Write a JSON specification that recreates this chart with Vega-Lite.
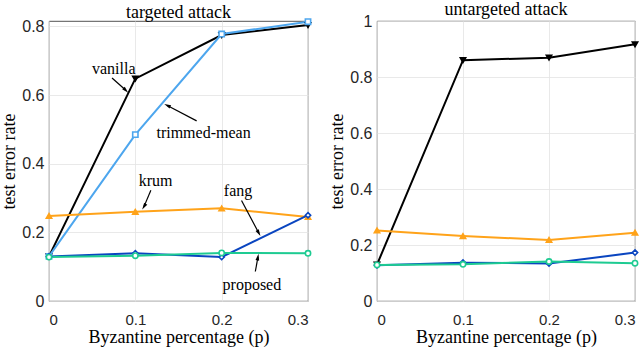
{
  "$schema": "https://vega.github.io/schema/vega-lite/v6.json",
  "padding": {"left": 0, "top": 0, "right": 5, "bottom": 0},
  "spacing": 13,
  "background": "white",
  "config": {
    "view": {"stroke": "#262626", "strokeWidth": 0.8},
    "axis": {
      "labelFont": "Liberation Sans", "labelFontSize": 16, "labelColor": "#262626",
      "titleFont": "Liberation Serif", "titleFontSize": 18, "titleFontWeight": "normal", "titleColor": "#000000",
      "domain": false, "ticks": false, "grid": true, "gridColor": "#e3e3e3", "gridWidth": 0.8
    },
    "axisX": {"labelPadding": 11, "titlePadding": 1, "labelFontSize": 15},
    "axisY": {"labelPadding": 5, "titlePadding": 3},
    "title": {"font": "Liberation Serif", "fontSize": 18, "fontWeight": "normal", "color": "#000000", "offset": -6}
  },
  "datasets": {
    "results": [
      {"panel": "targeted", "method": "vanilla", "p": 0, "err": 0.13},
      {"panel": "targeted", "method": "vanilla", "p": 0.1, "err": 0.648},
      {"panel": "targeted", "method": "vanilla", "p": 0.2, "err": 0.775},
      {"panel": "targeted", "method": "vanilla", "p": 0.3, "err": 0.804},
      {"panel": "targeted", "method": "trimmed-mean", "p": 0, "err": 0.13},
      {"panel": "targeted", "method": "trimmed-mean", "p": 0.1, "err": 0.485},
      {"panel": "targeted", "method": "trimmed-mean", "p": 0.2, "err": 0.778},
      {"panel": "targeted", "method": "trimmed-mean", "p": 0.3, "err": 0.814},
      {"panel": "targeted", "method": "krum", "p": 0, "err": 0.248},
      {"panel": "targeted", "method": "krum", "p": 0.1, "err": 0.26},
      {"panel": "targeted", "method": "krum", "p": 0.2, "err": 0.27},
      {"panel": "targeted", "method": "krum", "p": 0.3, "err": 0.245},
      {"panel": "targeted", "method": "fang", "p": 0, "err": 0.13},
      {"panel": "targeted", "method": "fang", "p": 0.1, "err": 0.139},
      {"panel": "targeted", "method": "fang", "p": 0.2, "err": 0.128},
      {"panel": "targeted", "method": "fang", "p": 0.3, "err": 0.25},
      {"panel": "targeted", "method": "proposed", "p": 0, "err": 0.128},
      {"panel": "targeted", "method": "proposed", "p": 0.1, "err": 0.132},
      {"panel": "targeted", "method": "proposed", "p": 0.2, "err": 0.14},
      {"panel": "targeted", "method": "proposed", "p": 0.3, "err": 0.139},
      {"panel": "untargeted", "method": "vanilla", "p": 0, "err": 0.13},
      {"panel": "untargeted", "method": "vanilla", "p": 0.1, "err": 0.86},
      {"panel": "untargeted", "method": "vanilla", "p": 0.2, "err": 0.869},
      {"panel": "untargeted", "method": "vanilla", "p": 0.3, "err": 0.917},
      {"panel": "untargeted", "method": "krum", "p": 0, "err": 0.252},
      {"panel": "untargeted", "method": "krum", "p": 0.1, "err": 0.232},
      {"panel": "untargeted", "method": "krum", "p": 0.2, "err": 0.218},
      {"panel": "untargeted", "method": "krum", "p": 0.3, "err": 0.244},
      {"panel": "untargeted", "method": "fang", "p": 0, "err": 0.128},
      {"panel": "untargeted", "method": "fang", "p": 0.1, "err": 0.137},
      {"panel": "untargeted", "method": "fang", "p": 0.2, "err": 0.134},
      {"panel": "untargeted", "method": "fang", "p": 0.3, "err": 0.173},
      {"panel": "untargeted", "method": "proposed", "p": 0, "err": 0.129},
      {"panel": "untargeted", "method": "proposed", "p": 0.1, "err": 0.131},
      {"panel": "untargeted", "method": "proposed", "p": 0.2, "err": 0.141},
      {"panel": "untargeted", "method": "proposed", "p": 0.3, "err": 0.135}
    ],
    "labels": [
      {"label": "vanilla", "tx": 0.075, "ty": 0.675},
      {"label": "trimmed-mean", "tx": 0.179, "ty": 0.49},
      {"label": "krum", "tx": 0.1235, "ty": 0.35},
      {"label": "fang", "tx": 0.219, "ty": 0.32},
      {"label": "proposed", "tx": 0.235, "ty": 0.046}
    ],
    "arrows": [
      {"label": "vanilla", "x1": 0.073, "y1": 0.65, "x2": 0.089, "y2": 0.614},
      {"label": "trimmed-mean", "x1": 0.171, "y1": 0.525, "x2": 0.137, "y2": 0.57},
      {"label": "krum", "x1": 0.118, "y1": 0.323, "x2": 0.110, "y2": 0.275},
      {"label": "fang", "x1": 0.223, "y1": 0.293, "x2": 0.243, "y2": 0.198},
      {"label": "proposed", "x1": 0.239, "y1": 0.086, "x2": 0.242, "y2": 0.128}
    ]
  },
  "hconcat": [
    {
      "width": 259, "height": 280,
      "title": "targeted attack",
      "layer": [
        {
          "data": {"name": "results"},
          "transform": [{"filter": "datum.panel == 'targeted'"}],
          "mark": {"type": "line", "strokeWidth": 2},
          "encoding": {
            "x": {"field": "p", "type": "quantitative", "scale": {"domain": [0, 0.3]},
              "axis": {"values": [0, 0.1, 0.2, 0.3], "title": "Byzantine percentage (p)", "labelExpr": "datum.value == 0 ? '0' : format(datum.value, '.1f')"}},
            "y": {"field": "err", "type": "quantitative", "scale": {"domain": [0, 0.816], "nice": false},
              "axis": {"values": [0, 0.2, 0.4, 0.6, 0.8], "title": "test error rate", "labelExpr": "datum.value == 0 ? '0' : format(datum.value, '.1f')"}},
            "color": {"field": "method", "type": "nominal", "legend": null,
              "scale": {"domain": ["vanilla", "trimmed-mean", "krum", "fang", "proposed"], "range": ["#000000", "#4da6ee", "#ffa31a", "#0a45c0", "#1ecb92"]}},
            "order": {"field": "p"}
          }
        },
        {
          "data": {"name": "results"},
          "transform": [{"filter": "datum.panel == 'targeted'"}],
          "mark": {"type": "point", "strokeWidth": 1.6, "size": 28, "opacity": 1},
          "encoding": {
            "x": {"field": "p", "type": "quantitative"},
            "y": {"field": "err", "type": "quantitative"},
            "stroke": {"field": "method", "type": "nominal", "legend": null,
              "scale": {"domain": ["vanilla", "trimmed-mean", "krum", "fang", "proposed"], "range": ["#000000", "#4da6ee", "#ffa31a", "#0a45c0", "#1ecb92"]}},
            "fill": {"field": "method", "type": "nominal", "legend": null,
              "scale": {"domain": ["vanilla", "trimmed-mean", "krum", "fang", "proposed"], "range": ["#000000", "#ffffff", "#ffa31a", "#ffffff", "#ffffff"]}},
            "shape": {"field": "method", "type": "nominal", "legend": null,
              "scale": {"domain": ["vanilla", "trimmed-mean", "krum", "fang", "proposed"], "range": ["triangle-down", "square", "triangle-up", "diamond", "circle"]}}
          }
        },
        {
          "data": {"name": "arrows"},
          "mark": {"type": "rule", "color": "#000000", "strokeWidth": 1.2},
          "encoding": {
            "x": {"field": "x1", "type": "quantitative"},
            "y": {"field": "y1", "type": "quantitative"},
            "x2": {"field": "x2"},
            "y2": {"field": "y2"}
          }
        },
        {
          "data": {"name": "arrows"},
          "mark": {"type": "point", "shape": "M0,-1L0.55,1L-0.55,1Z", "filled": true, "color": "#000000", "size": 45, "opacity": 1},
          "encoding": {
            "x": {"field": "x2", "type": "quantitative"},
            "y": {"field": "y2", "type": "quantitative"},
            "angle": {"field": "label", "type": "nominal", "legend": null,
              "scale": {"type": "ordinal", "domain": ["vanilla", "trimmed-mean", "krum", "fang", "proposed"], "range": [135, 295, 212, 151, 10]}}
          }
        },
        {
          "data": {"name": "labels"},
          "mark": {"type": "text", "font": "Liberation Serif", "fontSize": 16, "color": "#000000", "baseline": "middle", "align": "center"},
          "encoding": {
            "x": {"field": "tx", "type": "quantitative"},
            "y": {"field": "ty", "type": "quantitative"},
            "text": {"field": "label"}
          }
        }
      ]
    },
    {
      "width": 258, "height": 280,
      "title": "untargeted attack",
      "layer": [
        {
          "data": {"name": "results"},
          "transform": [{"filter": "datum.panel == 'untargeted'"}],
          "mark": {"type": "line", "strokeWidth": 2},
          "encoding": {
            "x": {"field": "p", "type": "quantitative", "scale": {"domain": [0, 0.3]},
              "axis": {"values": [0, 0.1, 0.2, 0.3], "title": "Byzantine percentage (p)", "labelExpr": "datum.value == 0 ? '0' : format(datum.value, '.1f')"}},
            "y": {"field": "err", "type": "quantitative", "scale": {"domain": [0, 1], "nice": false},
              "axis": {"values": [0, 0.2, 0.4, 0.6, 0.8, 1], "title": "test error rate", "labelExpr": "datum.value == 0 ? '0' : datum.value == 1 ? '1' : format(datum.value, '.1f')"}},
            "color": {"field": "method", "type": "nominal", "legend": null,
              "scale": {"domain": ["vanilla", "trimmed-mean", "krum", "fang", "proposed"], "range": ["#000000", "#4da6ee", "#ffa31a", "#0a45c0", "#1ecb92"]}},
            "order": {"field": "p"}
          }
        },
        {
          "data": {"name": "results"},
          "transform": [{"filter": "datum.panel == 'untargeted'"}],
          "mark": {"type": "point", "strokeWidth": 1.6, "size": 28, "opacity": 1},
          "encoding": {
            "x": {"field": "p", "type": "quantitative"},
            "y": {"field": "err", "type": "quantitative"},
            "stroke": {"field": "method", "type": "nominal", "legend": null,
              "scale": {"domain": ["vanilla", "trimmed-mean", "krum", "fang", "proposed"], "range": ["#000000", "#4da6ee", "#ffa31a", "#0a45c0", "#1ecb92"]}},
            "fill": {"field": "method", "type": "nominal", "legend": null,
              "scale": {"domain": ["vanilla", "trimmed-mean", "krum", "fang", "proposed"], "range": ["#000000", "#ffffff", "#ffa31a", "#ffffff", "#ffffff"]}},
            "shape": {"field": "method", "type": "nominal", "legend": null,
              "scale": {"domain": ["vanilla", "trimmed-mean", "krum", "fang", "proposed"], "range": ["triangle-down", "square", "triangle-up", "diamond", "circle"]}}
          }
        }
      ]
    }
  ]
}
